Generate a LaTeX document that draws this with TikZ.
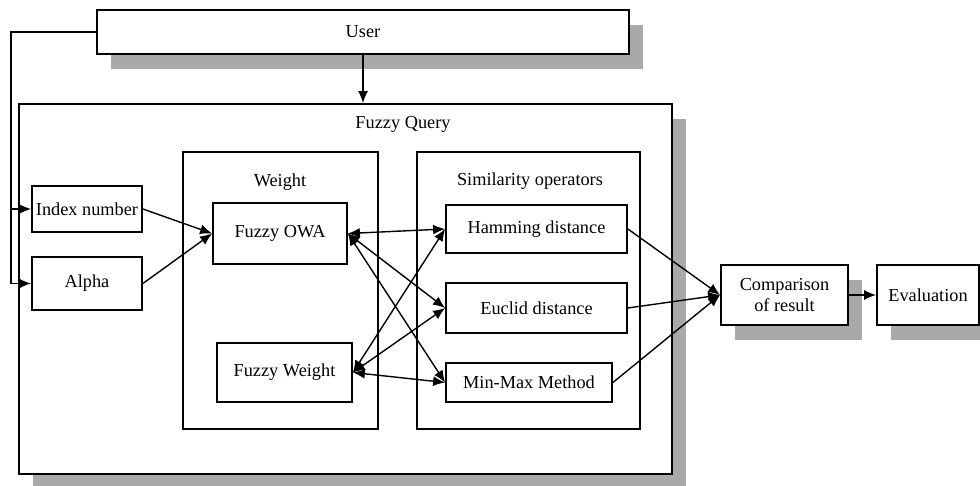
\documentclass[tikz,border=0pt]{standalone}
\usepackage{fontspec}
\setmainfont{Liberation Serif}
\usetikzlibrary{arrows.meta,shadows}
\definecolor{shadegray}{HTML}{A9A9A9}

\begin{document}
\begin{tikzpicture}[x=1pt,y=-1pt,
  font=\fontsize{18.3}{20.5}\selectfont,
  box/.style={draw,line width=1.8pt,fill=white,inner sep=0pt,align=center},
  grp/.style={draw,line width=1.5pt,inner sep=0pt},
  shad/.style={drop shadow={shadow xshift=14pt,shadow yshift=-15pt,fill=shadegray,opacity=1}},
  arr/.style={line width=1.4pt,-{Latex[length=12pt,width=10pt]}},
  dbl/.style={line width=1.4pt,{Latex[length=12pt,width=10pt]}-{Latex[length=12pt,width=10pt]}}]
\useasboundingbox (0,0) rectangle (980,486);
% outer boxes
\node[box,shad,minimum width=532pt,minimum height=44pt] (user) at (363,32) {User} ;
\node[box,shad,minimum width=653pt,minimum height=370pt] (query) at (345.5,289) {} ;
\node (qlabel) at (403,124) {Fuzzy Query} ;
% inputs
\node[box,minimum width=110pt,minimum height=46pt] (index) at (87,209) {Index number} ;
\node[box,minimum width=110pt,minimum height=53pt] (alpha) at (87,283.5) {Alpha} ;
% weight group
\node[grp,minimum width=195pt,minimum height=277pt] (wgrp) at (280.5,290.5) {} ;
\node (wlabel) at (280,182) {Weight} ;
\node[box,minimum width=134pt,minimum height=61pt] (owa) at (280,233.5) {Fuzzy OWA} ;
\node[box,minimum width=135pt,minimum height=59pt] (fweight) at (284.5,372.5) {Fuzzy Weight} ;
% similarity group
\node[grp,minimum width=223pt,minimum height=277pt] (sgrp) at (528.5,290.5) {} ;
\node (slabel) at (530,181) {Similarity operators} ;
\node[box,minimum width=181pt,minimum height=48pt] (hamming) at (536.5,229) {Hamming distance} ;
\node[box,minimum width=181pt,minimum height=50pt] (euclid) at (536.5,308) {Euclid distance} ;
\node[box,minimum width=166pt,minimum height=39pt] (minmax) at (529,382.5) {Min-Max Method} ;
% results
\node[box,shad,minimum width=127pt,minimum height=60pt] (comp) at (784.5,295) {Comparison\\of result} ;
\node[box,shad,minimum width=102pt,minimum height=60pt] (eval) at (928,295) {Evaluation} ;
% connectors
\coordinate (lft) at (11,32) ;
\draw[arr] (user.west) -- (lft) |- (alpha.west) ;
\draw[arr] (lft |- index.west) -- (index.west) ;
\draw[arr] (user.south) -- (user.south |- query.north) ;
\draw[arr] (index.east) to (owa.west) ;
\draw[arr] (alpha.east) to (owa.west) ;
\draw[dbl] (owa.east) to (hamming.west) ;
\draw[dbl] (owa.east) to (euclid.west) ;
\draw[dbl] (owa.east) to (minmax.west) ;
\draw[dbl] (fweight.east) to (hamming.west) ;
\draw[dbl] (fweight.east) to (euclid.west) ;
\draw[dbl] (fweight.east) to (minmax.west) ;
\draw[arr] (hamming.east) to (comp.west) ;
\draw[arr] (euclid.east) to (comp.west) ;
\draw[arr] (minmax.east) to (comp.west) ;
\draw[arr] (comp.east) to (eval.west) ;
\end{tikzpicture}
\end{document}
